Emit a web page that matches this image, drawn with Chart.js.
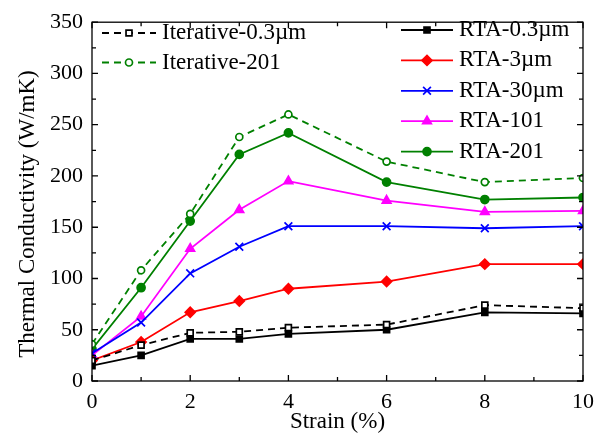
<!DOCTYPE html>
<html lang="en">
  <head>
    <meta charset="UTF-8" />
    <title>Thermal Conductivity vs Strain</title>
    <script src="https://cdn.jsdelivr.net/npm/chart.js"></script>
    <style>
      body {
        margin: 0;
        background: #fff;
      }
      #wrap {
        width: 605px;
        height: 437px;
      }
    </style>
  </head>
  <body>
    <div id="wrap">
      <canvas id="tcChart" width="605" height="437"></canvas>
    </div>

    <script>
      // strain values (%)
      const strain = [0, 1, 2, 3, 4, 6, 8, 10];

      // thermal conductivity (W/mK)
      const iter03 = [20, 35, 47, 48, 52, 55, 74, 71];
      const iter201 = [36, 108, 163, 238, 260, 214, 194, 198];
      const rta03 = [15, 25, 41, 41, 46, 50, 67, 66];
      const rta3 = [20, 38, 67, 78, 90, 97, 114, 114];
      const rta30 = [27, 57, 105, 131, 151, 151, 149, 151];
      const rta101 = [25, 63, 129, 167, 195, 176, 165, 166];
      const rta201 = [31, 91, 156, 221, 242, 194, 177, 179];

      const yTicks = [0, 50, 100, 150, 200, 250, 300, 350];
      const xTicks = [0, 2, 4, 6, 8, 10];

      const pts = (ys) => strain.map((x, i) => ({ x: x, y: ys[i] }));
      const serif = "'Liberation Serif', 'Times New Roman', serif";

      function series(label, ys, color, style, fill, dashed, r, group) {
        return {
          label: label,
          data: pts(ys),
          borderColor: color,
          backgroundColor: fill,
          borderWidth: 1.8,
          borderDash: dashed ? [7, 5] : [],
          pointStyle: style,
          pointRadius: r,
          pointBorderColor: color,
          pointBackgroundColor: fill,
          pointBorderWidth: 1.7,
          tension: 0,
          group: group,
        };
      }

      const datasets = [
        series("Iterative-0.3µm", iter03, "#000000", "rect", "#ffffff", true, 4.2, "left"),
        series("Iterative-201", iter201, "#008000", "circle", "#ffffff", true, 3.5, "left"),
        series("RTA-0.3µm", rta03, "#000000", "rect", "#000000", false, 4.2, "right"),
        series("RTA-3µm", rta3, "#ff0000", "rectRot", "#ff0000", false, 5, "right"),
        series("RTA-30µm", rta30, "#0000ff", "crossRot", "#0000ff", false, 5.5, "right"),
        series("RTA-101", rta101, "#ff00ff", "triangle", "#ff00ff", false, 5, "right"),
        series("RTA-201", rta201, "#008000", "circle", "#008000", false, 4, "right"),
      ];

      // frame with inward ticks on all four sides, y title and the two legends
      const framePlugin = {
        id: "frame",
        afterDraw(chart) {
          const ctx = chart.ctx;
          const a = chart.chartArea;
          const xs = chart.scales.x;
          const ys = chart.scales.y;
          ctx.save();
          ctx.strokeStyle = "#000";
          ctx.lineWidth = 1.3;
          ctx.strokeRect(a.left, a.top, a.right - a.left, a.bottom - a.top);
          ctx.beginPath();
          for (let v = 0; v <= 10; v += 1) {
            const px = xs.getPixelForValue(v);
            const len = v % 2 === 0 ? 6 : 4;
            ctx.moveTo(px, a.bottom);
            ctx.lineTo(px, a.bottom - len);
            ctx.moveTo(px, a.top);
            ctx.lineTo(px, a.top + len);
          }
          for (let v = 0; v <= 350; v += 25) {
            const py = ys.getPixelForValue(v);
            const len = v % 50 === 0 ? 6 : 4;
            ctx.moveTo(a.left, py);
            ctx.lineTo(a.left + len, py);
            ctx.moveTo(a.right, py);
            ctx.lineTo(a.right - len, py);
          }
          ctx.stroke();

          // y axis title
          ctx.save();
          ctx.translate(28, 214);
          ctx.rotate(-Math.PI / 2);
          ctx.font = "23px " + serif;
          ctx.fillStyle = "#000";
          ctx.textAlign = "center";
          ctx.textBaseline = "middle";
          ctx.fillText("Thermal Conductivity (W/mK)", 0, 0);
          ctx.restore();

          // legends
          ctx.font = "23px " + serif;
          ctx.textBaseline = "middle";
          const drawEntry = (ds, x0, x1, y) => {
            ctx.save();
            ctx.strokeStyle = ds.borderColor;
            ctx.lineWidth = ds.borderWidth;
            ctx.setLineDash(ds.borderDash);
            ctx.beginPath();
            ctx.moveTo(x0, y);
            ctx.lineTo(x1, y);
            ctx.stroke();
            ctx.restore();
            ctx.save();
            ctx.strokeStyle = ds.pointBorderColor;
            ctx.fillStyle = ds.pointBackgroundColor;
            ctx.lineWidth = ds.pointBorderWidth;
            Chart.helpers.drawPoint(ctx, { pointStyle: ds.pointStyle, radius: ds.pointRadius, rotation: 0, borderWidth: ds.pointBorderWidth }, (x0 + x1) / 2, y);
            ctx.restore();
            ctx.fillStyle = "#000";
            ctx.fillText(ds.label, x1 + 6, y);
          };
          let li = 0;
          let ri = 0;
          chart.data.datasets.forEach((ds) => {
            if (ds.group === "left") {
              drawEntry(ds, 102, 156, 33 + li * 29.5);
              li++;
            } else {
              drawEntry(ds, 401, 453, 30 + ri * 30.4);
              ri++;
            }
          });
          ctx.restore();
        },
      };

      new Chart(document.getElementById("tcChart"), {
        type: "line",
        data: { datasets: datasets },
        options: {
          responsive: false,
          animation: false,
          layout: { padding: { top: 15, right: 22, left: 0, bottom: 0 } },
          plugins: {
            legend: { display: false },
            tooltip: { enabled: false },
          },
          scales: {
            x: {
              type: "linear",
              min: 0,
              max: 10,
              afterBuildTicks: (s) => {
                s.ticks = xTicks.map((v) => ({ value: v }));
              },
              afterFit: (s) => {
                s.height = 56;
              },
              grid: { display: false, drawTicks: false },
              border: { display: false },
              ticks: {
                padding: 8,
                color: "#000",
                maxRotation: 0,
                font: { family: serif, size: 22 },
              },
              title: {
                display: true,
                text: "Strain (%)",
                color: "#000",
                padding: { top: 0, bottom: 1 },
                font: { family: serif, size: 23 },
              },
            },
            y: {
              min: 0,
              max: 350,
              afterBuildTicks: (s) => {
                s.ticks = yTicks.map((v) => ({ value: v }));
              },
              afterFit: (s) => {
                s.width = 92;
              },
              grid: { display: false, drawTicks: false },
              border: { display: false },
              ticks: {
                padding: 9,
                color: "#000",
                font: { family: serif, size: 22 },
              },
              title: { display: false },
            },
          },
        },
        plugins: [framePlugin],
      });
    </script>
  </body>
</html>
